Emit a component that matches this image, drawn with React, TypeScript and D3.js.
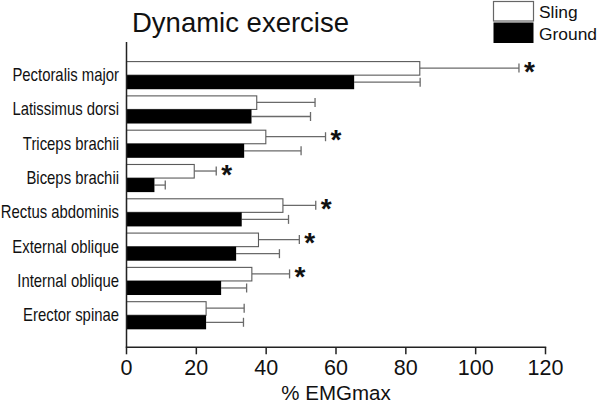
import React from "react";
import * as d3 from "d3";

const categories = [
  "Pectoralis major",
  "Latissimus dorsi",
  "Triceps brachii",
  "Biceps brachii",
  "Rectus abdominis",
  "External oblique",
  "Internal oblique",
  "Erector spinae",
];
const slingMean = [84, 37.3, 39.9, 19.4, 44.8, 37.8, 35.9, 22.8];
const slingSD = [28.4, 16.7, 17.1, 6.3, 9.4, 11.7, 10.8, 10.9];
const groundMean = [65.2, 35.8, 33.7, 8.0, 33.0, 31.4, 27.1, 22.8];
const groundSD = [18.9, 16.9, 16.3, 3.1, 13.4, 12.4, 7.3, 10.7];
const significant = [true, false, true, true, true, true, true, false];
const xTicks = [0, 20, 40, 60, 80, 100, 120];
const seriesNames = ["Sling", "Ground"];

const FONT = "'Liberation Sans', Arial, Helvetica, sans-serif";

export default function App() {
  const x = d3.scaleLinear().domain([0, 120]).range([126.5, 545.5]);
  const y = d3
    .scaleBand<string>()
    .domain(categories)
    .range([58, 332.4])
    .paddingInner(0.18)
    .paddingOuter(0.09);
  const bw = y.bandwidth();
  const half = bw / 2;
  const axisY = 347.3;
  const axisTop = 42;
  const errColor = "#6a6a6a";
  const capH = 9;

  return (
    <svg
      width={600}
      height={404}
      style={{ position: "absolute", left: 0, top: 0, background: "#fff" }}
      fontFamily={FONT}
    >
      <rect x={0} y={0} width={600} height={404} fill="#fff" />
      {/* Title */}
      <text x={132} y={32} fontSize={27.5} fill="#111">
        Dynamic exercise
      </text>

      {/* Legend */}
      <rect x={493.5} y={1.5} width={40} height={19.5} fill="#fff" stroke="#666" strokeWidth={1.2} />
      <rect x={493.5} y={22.5} width={40} height={20.5} fill="#000" />
      <text x={539} y={17.5} fontSize={17.4} fill="#111">
        {seriesNames[0]}
      </text>
      <text x={539} y={39.5} fontSize={17.4} fill="#111">
        {seriesNames[1]}
      </text>

      {/* Bars */}
      {categories.map((c, i) => {
        const y0 = y(c)!;
        const sEnd = x(slingMean[i] + slingSD[i]);
        const gEnd = x(groundMean[i] + groundSD[i]);
        const sy = y0 + half / 2;
        const gy = y0 + half + half / 2;
        return (
          <g key={c}>
            <line x1={x(slingMean[i])} x2={sEnd} y1={sy} y2={sy} stroke={errColor} strokeWidth={1.3} />
            <line x1={sEnd} x2={sEnd} y1={sy - capH / 2} y2={sy + capH / 2} stroke={errColor} strokeWidth={1.3} />
            <line x1={x(groundMean[i])} x2={gEnd} y1={gy} y2={gy} stroke={errColor} strokeWidth={1.3} />
            <line x1={gEnd} x2={gEnd} y1={gy - capH / 2} y2={gy + capH / 2} stroke={errColor} strokeWidth={1.3} />
            <rect
              x={x(0)}
              y={y0 + 0.5}
              width={x(slingMean[i]) - x(0)}
              height={half - 0.5}
              fill="#fff"
              stroke="#5a5a5a"
              strokeWidth={1.1}
            />
            <rect x={x(0)} y={y0 + half} width={x(groundMean[i]) - x(0)} height={half} fill="#000" />
            {significant[i] && (
              <text x={sEnd + 5} y={sy + 12.5} fontSize={28} fontWeight="bold" fill="#111">
                *
              </text>
            )}
            <text
              transform={`translate(119, ${y0 + half + 6}) scale(0.85, 1)`}
              fontSize={17.5}
              textAnchor="end"
              fill="#111"
            >
              {c}
            </text>
          </g>
        );
      })}

      {/* Axes */}
      <line x1={x(0)} x2={x(0)} y1={axisTop} y2={axisY} stroke="#222" strokeWidth={1.5} />
      <line x1={x(0) - 0.75} x2={x(120) + 0.75} y1={axisY} y2={axisY} stroke="#222" strokeWidth={1.5} />
      {xTicks.map((t) => (
        <g key={t}>
          <line x1={x(t)} x2={x(t)} y1={axisY} y2={axisY + 7} stroke="#222" strokeWidth={1.5} />
          <text x={x(t)} y={375} fontSize={21.5} textAnchor="middle" fill="#111">
            {t}
          </text>
        </g>
      ))}
      <text x={336} y={400} fontSize={20.5} textAnchor="middle" fill="#111">
        % EMGmax
      </text>
    </svg>
  );
}
